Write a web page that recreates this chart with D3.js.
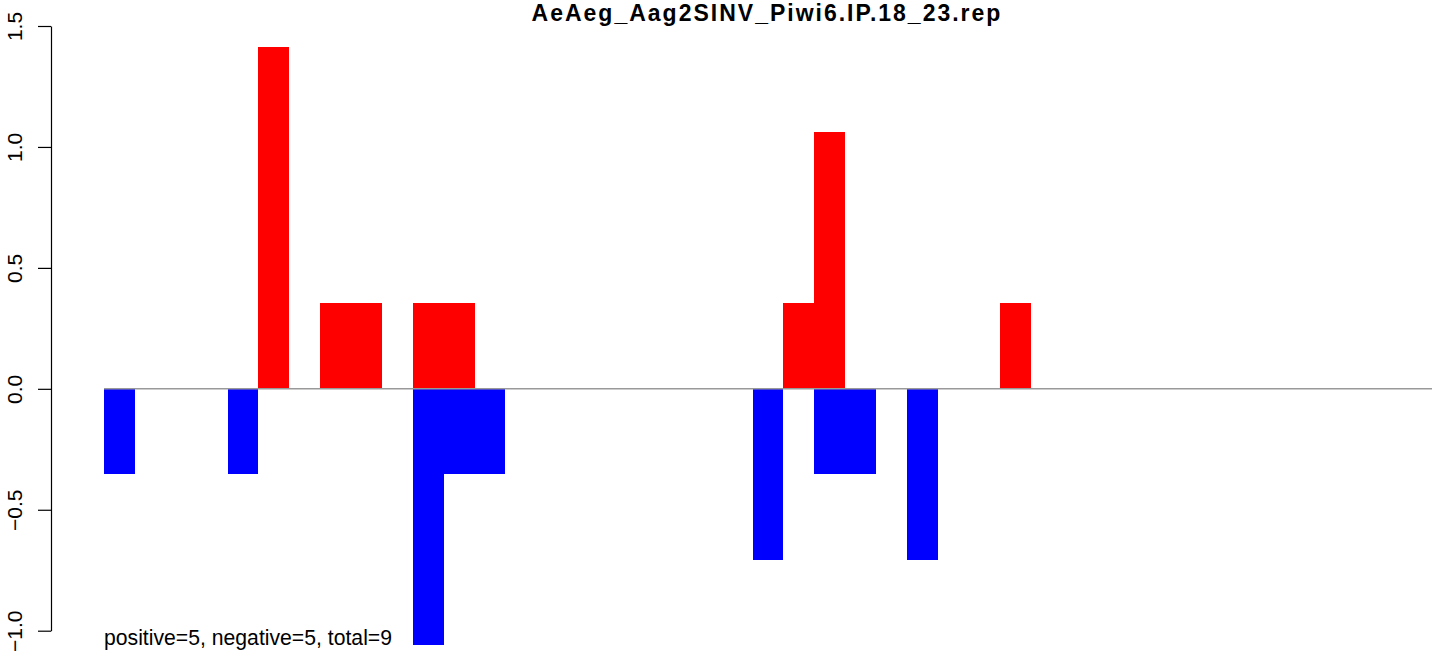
<!DOCTYPE html>
<html>
<head>
<meta charset="utf-8">
<script src="https://cdn.jsdelivr.net/npm/d3@7"></script>
<style>
  html, body { margin: 0; padding: 0; background: #fff; }
  svg text { font-family: "Liberation Sans", Arial, Helvetica, sans-serif; }
</style>
</head>
<body>
<div id="chart"></div>
<script>
// one slot per position, 43 slots in total
const binCount = 43;
// positive strand values (slot index, value)
const positiveBins = [5, 7, 8, 10, 11, 22, 23, 29];
const positiveValues = [1.414, 0.354, 0.354, 0.354, 0.354, 0.354, 1.061, 0.354];
// negative strand values
const negativeBins = [0, 4, 10, 11, 12, 21, 23, 24, 26];
const negativeValues = [-0.354, -0.354, -1.061, -0.354, -0.354, -0.707, -0.354, -0.354, -0.707];
const yTicks = [-1.0, -0.5, 0.0, 0.5, 1.0, 1.5];
const chartTitle = "AeAeg_Aag2SINV_Piwi6.IP.18_23.rep";
const footNote = "positive=5, negative=5, total=9";

const width = 1444, height = 656;

const svg = d3.select("#chart").append("svg")
  .attr("width", width)
  .attr("height", height);

const x = d3.scaleLinear().domain([0, binCount]).range([104, 1432]);
const y = d3.scaleLinear().domain([-1, 1.5]).range([630.7, 26]);

const bw = x(1) - x(0);

const posData = positiveBins.map((b, i) => ({ bin: b, value: positiveValues[i] }));
const negData = negativeBins.map((b, i) => ({ bin: b, value: negativeValues[i] }));

// bars sit edge to edge, crisp edges avoid seams between neighbours
svg.append("g")
  .attr("shape-rendering", "crispEdges")
  .selectAll("rect")
  .data(posData)
  .enter().append("rect")
  .attr("x", d => x(d.bin))
  .attr("y", d => y(d.value))
  .attr("width", bw)
  .attr("height", d => y(0) - y(d.value))
  .attr("fill", "#ff0000");

svg.append("g")
  .attr("shape-rendering", "crispEdges")
  .selectAll("rect")
  .data(negData)
  .enter().append("rect")
  .attr("x", d => x(d.bin))
  .attr("y", y(0))
  .attr("width", bw)
  .attr("height", d => y(d.value) - y(0))
  .attr("fill", "#0000ff");

// zero line across all slots
svg.append("line")
  .attr("x1", x(0)).attr("x2", x(binCount))
  .attr("y1", y(0)).attr("y2", y(0))
  .attr("stroke", "#999999")
  .attr("stroke-width", 1.5);

// y axis, R style with rotated labels
const yAxis = svg.append("g")
  .attr("transform", "translate(51,0)")
  .call(d3.axisLeft(y).tickValues(yTicks).tickSize(13).tickSizeOuter(0).tickFormat(d3.format(".1f")));

yAxis.select(".domain").attr("stroke", "#000").attr("stroke-width", 1.2);
yAxis.selectAll(".tick line").attr("stroke", "#000").attr("stroke-width", 1.2);
yAxis.selectAll(".tick text")
  .attr("x", null).attr("dy", null)
  .attr("transform", "translate(-29,0) rotate(-90)")
  .attr("text-anchor", "middle")
  .attr("fill", "#000")
  .style("font-size", "21px")
  .text(d => d3.format(".1f")(d).replace("-", "\u2212"));

svg.append("text")
  .attr("x", 767)
  .attr("y", 21)
  .attr("text-anchor", "middle")
  .style("font-size", "23px")
  .style("font-weight", "bold")
  .style("letter-spacing", "2px")
  .text(chartTitle);

svg.append("text")
  .attr("x", 104)
  .attr("y", 645)
  .style("font-size", "21.2px")
  .text(footNote);
</script>
</body>
</html>
